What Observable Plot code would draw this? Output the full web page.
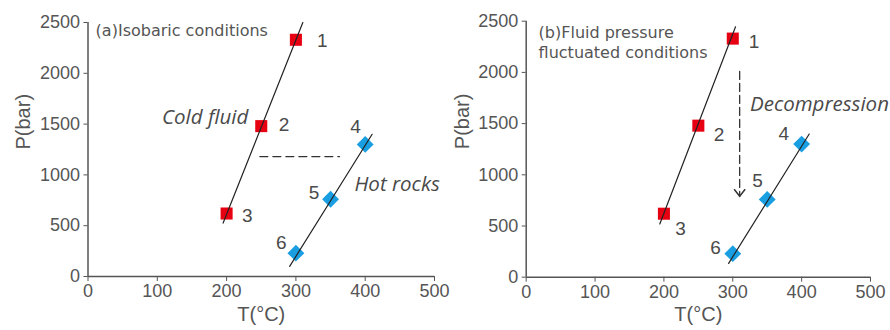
<!DOCTYPE html>
<html>
<head>
<meta charset="utf-8">
<script src="https://cdn.jsdelivr.net/npm/d3@7"></script>
<script src="https://cdn.jsdelivr.net/npm/@observablehq/plot@0.6"></script>
<style>
  html, body { margin: 0; padding: 0; background: #fff; }
  #wrap { display: flex; width: 890px; height: 330px; }
</style>
</head>
<body>
<div id="wrap"></div>
<script>
// ---- data ----
const fluidT = [300, 250, 200];
const fluidP = [2330, 1480, 620];
const fluidIds = ["1", "2", "3"];
const rockT = [400, 350, 300];
const rockP = [1300, 760, 230];
const rockIds = ["4", "5", "6"];
const fluidFitT = [195, 310];
const fluidFitP = [526, 2500];
const rockFitTA = [291, 410];
const rockFitPA = [100, 1400];
const rockFitTB = [294, 411];
const rockFitPB = [135, 1398];
const fluidFitTB = [194, 304];
const fluidFitPB = [520, 2445];
const xTicks = [0, 100, 200, 300, 400, 500];
const yTicks = [0, 500, 1000, 1500, 2000, 2500];
// id label anchors (data coords)
const labelA_T = [338, 283, 230, 386, 326, 279];
const labelA_P = [2320, 1490, 600, 1473, 822, 333];
const labelB_T = [331, 280, 224, 374, 336, 275];
const labelB_P = [2293, 1390, 470, 1400, 945, 290];
const ids = fluidIds.concat(rockIds);
const isobarT = [248, 363];
const isobarP = [1180, 1180];
const decompT = [310, 310];
const decompP = [2010, 790];

const fluid = fluidT.map((t, i) => ({T: t, P: fluidP[i], id: fluidIds[i]}));
const rocks = rockT.map((t, i) => ({T: t, P: rockP[i], id: rockIds[i]}));
const toLine = (ts, ps) => ts.map((t, i) => ({T: t, P: ps[i]}));
const toLabels = (ts, ps) => ts.map((t, i) => ({T: t, P: ps[i], id: ids[i]}));

const RED = "#e60012";
const BLUE = "#1a9ee2";
const TXT = "#4a4a4a";
const FONT = "'Liberation Sans', Arial, Helvetica, sans-serif";
const WIDE = "'DejaVu Sans', Verdana, sans-serif";
const ITAL = "'Open Sans', 'Noto Sans', sans-serif";

// open chevron (arrow head) pointing down, tip at origin
const chevron = {
  draw(context) {
    context.moveTo(-5.5, -7);
    context.lineTo(0, 0);
    context.lineTo(5.5, -7);
  }
};

function panel(opts) {
  return Plot.plot({
    width: 445,
    height: 330,
    marginLeft: opts.ml,
    marginRight: opts.mr,
    marginTop: opts.mt,
    marginBottom: opts.mb,
    style: {fontFamily: FONT, fontSize: "18px", color: "#555", background: "transparent", overflow: "visible"},
    x: {domain: [0, 500]},
    y: {domain: [0, 2500]},
    marks: [
      Plot.axisX({ticks: xTicks, tickFormat: d3.format("d"), tickSize: 5, tickPadding: 3, fontSize: 18,
        label: null, stroke: "#555"}),
      Plot.axisY({ticks: yTicks, tickFormat: d3.format("d"), tickSize: 4, tickPadding: 4, fontSize: 18,
        label: null, stroke: "#555"}),
      Plot.text(["T(°C)"], {frameAnchor: "bottom", dy: 44, fontSize: 20, fill: "#555"}),
      Plot.text(["P(bar)"], {frameAnchor: "left", dx: -64, rotate: -90, fontSize: 20, fill: "#555"}),
      Plot.ruleX([0], {stroke: "#555", strokeWidth: 1.5}),
      Plot.ruleY([0], {stroke: "#555", strokeWidth: 1.5}),
      Plot.dot(fluid, {x: "T", y: "P", symbol: "square", r: 6.8, fill: RED, stroke: "none"}),
      Plot.dot(rocks, {x: "T", y: "P", symbol: "diamond2", r: 7.6, fill: BLUE, stroke: "none"}),
      Plot.line(toLine(opts.fluidFitT, opts.fluidFitP), {x: "T", y: "P", stroke: "#222", strokeWidth: 1.2}),
      Plot.line(toLine(opts.rockFitT, opts.rockFitP), {x: "T", y: "P", stroke: "#222", strokeWidth: 1.2}),
      Plot.text(toLabels(opts.labT, opts.labP), {x: "T", y: "P", text: "id", fontSize: 19, fill: TXT}),
      ...opts.extra
    ]
  });
}

const left = panel({
  ml: 87.5, mr: 11, mt: 22, mb: 54,
  fluidFitT, fluidFitP,
  rockFitT: rockFitTA, rockFitP: rockFitPA,
  labT: labelA_T, labP: labelA_P,
  extra: [
    Plot.text(["(a)Isobaric conditions"], {x: 11, y: 2418, textAnchor: "start", fontSize: 16, fontFamily: WIDE, fill: "#555"}),
    Plot.text(["Cold fluid"], {x: 169, y: 1566, fontStyle: "italic", fontSize: 20.5, fontFamily: ITAL, fill: TXT}),
    Plot.text(["Hot rocks"], {x: 446, y: 908, fontStyle: "italic", fontSize: 20.5, fontFamily: ITAL, fill: TXT}),
    Plot.line(toLine(isobarT, isobarP), {x: "T", y: "P", stroke: "#333", strokeWidth: 1.3, strokeDasharray: "8,5"})
  ]
});

const right = panel({
  ml: 80.7, mr: 20, mt: 20.7, mb: 53.3,
  fluidFitT: fluidFitTB, fluidFitP: fluidFitPB,
  rockFitT: rockFitTB, rockFitP: rockFitPB,
  labT: labelB_T, labP: labelB_P,
  extra: [
    Plot.text(["(b)Fluid pressure"], {x: 18, y: 2387, textAnchor: "start", fontSize: 16, fontFamily: WIDE, fill: "#555"}),
    Plot.text(["fluctuated conditions"], {x: 18, y: 2195, textAnchor: "start", fontSize: 16, fontFamily: WIDE, fill: "#555"}),
    Plot.text(["Decompression"], {x: 325, y: 1690, textAnchor: "start", fontStyle: "italic", fontSize: 20.5, fontFamily: ITAL, fill: TXT}),
    Plot.line(toLine(decompT, decompP), {x: "T", y: "P", stroke: "#333", strokeWidth: 1.3, strokeDasharray: "8,4"}),
    Plot.dot([{T: decompT[1], P: decompP[1]}], {x: "T", y: "P", symbol: chevron, fill: "none", stroke: "#333", strokeWidth: 1.5})
  ]
});

document.getElementById("wrap").append(left, right);
</script>
</body>
</html>
